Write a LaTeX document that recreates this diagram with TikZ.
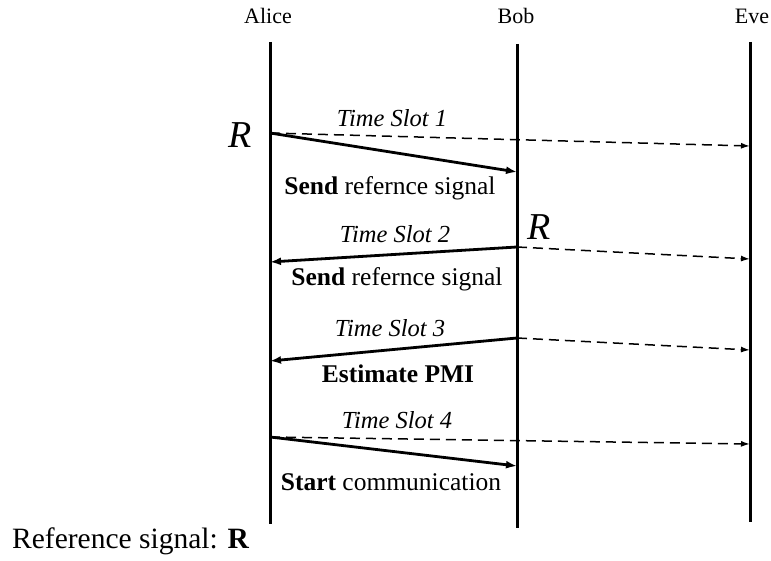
\documentclass[tikz,border=0pt]{standalone}
\usepackage{fontspec}
\setmainfont{Liberation Serif}
\usetikzlibrary{arrows.meta}
\begin{document}
\begin{tikzpicture}[x=1pt,y=-1pt,
  lifeline/.style={line width=3pt},
  msg/.style={line width=2.8pt,-{Latex[length=11pt,width=8pt]}},
  leak/.style={line width=1.5pt,dash pattern=on 10pt off 6pt,-{Latex[length=9pt,width=6pt]}},
  head/.style={anchor=base,inner sep=0pt,font=\fontsize{22}{26}\selectfont},
  slot/.style={anchor=base,inner sep=0pt,font=\fontsize{24.5}{28}\selectfont\itshape},
  act/.style={anchor=base,inner sep=0pt,font=\fontsize{25.5}{29}\selectfont},
  refR/.style={anchor=base,inner sep=0pt,font=\fontsize{38}{40}\selectfont\itshape}]
\useasboundingbox (0,0) rectangle (771,561);
% headers
\node[head] (alice) at (268,24) {Alice};
\node[head] (bob) at (516,24) {Bob};
\node[head] (eve) at (752,24) {Eve};
% lifelines
\coordinate (atop) at (270,42); \coordinate (abot) at (270,524);
\coordinate (btop) at (517,44); \coordinate (bbot) at (517,528);
\coordinate (etop) at (750,42); \coordinate (ebot) at (750,522);
\draw[lifeline] (atop) -- (abot);
\draw[lifeline] (btop) -- (bbot);
\draw[lifeline] (etop) -- (ebot);
% slot 1
\coordinate (a1) at (270,133); \coordinate (b1) at (517,172); \coordinate (e1) at (750,146);
\draw[leak] (a1) -- (e1);
\draw[msg] (a1) -- (b1);
\node[slot] (ts1) at (392,127) {Time Slot 1};
\node[refR] (r1) at (240,148) {R};
\node[act] (s1) at (390,195) {\textbf{Send} refernce signal};
% slot 2
\coordinate (b2) at (517,247); \coordinate (a2) at (270,262); \coordinate (e2) at (750,259);
\draw[leak] (b2) -- (e2);
\draw[msg] (b2) -- (a2);
\node[slot] (ts2) at (395,243) {Time Slot 2};
\node[refR] (r2) at (539,240) {R};
\node[act] (s2) at (397,286) {\textbf{Send} refernce signal};
% slot 3
\coordinate (b3) at (517,338); \coordinate (a3) at (270,361); \coordinate (e3) at (750,350);
\draw[leak] (b3) -- (e3);
\draw[msg] (b3) -- (a3);
\node[slot] (ts3) at (390,336) {Time Slot 3};
\node[act] (s3) at (398,382) {\textbf{Estimate PMI}};
% slot 4
\coordinate (a4) at (270,437); \coordinate (b4) at (517,466); \coordinate (e4) at (750,444);
\draw[leak] (a4) -- (e4);
\draw[msg] (a4) -- (b4);
\node[slot] (ts4) at (397,428) {Time Slot 4};
\node[act] (s4) at (391,490) {\textbf{Start} communication};
% legend
\node[anchor=base west,inner sep=0pt,font=\fontsize{29.5}{33}\selectfont] (legend) at (12,548) {Reference signal: \textbf{R}};
\end{tikzpicture}
\end{document}
